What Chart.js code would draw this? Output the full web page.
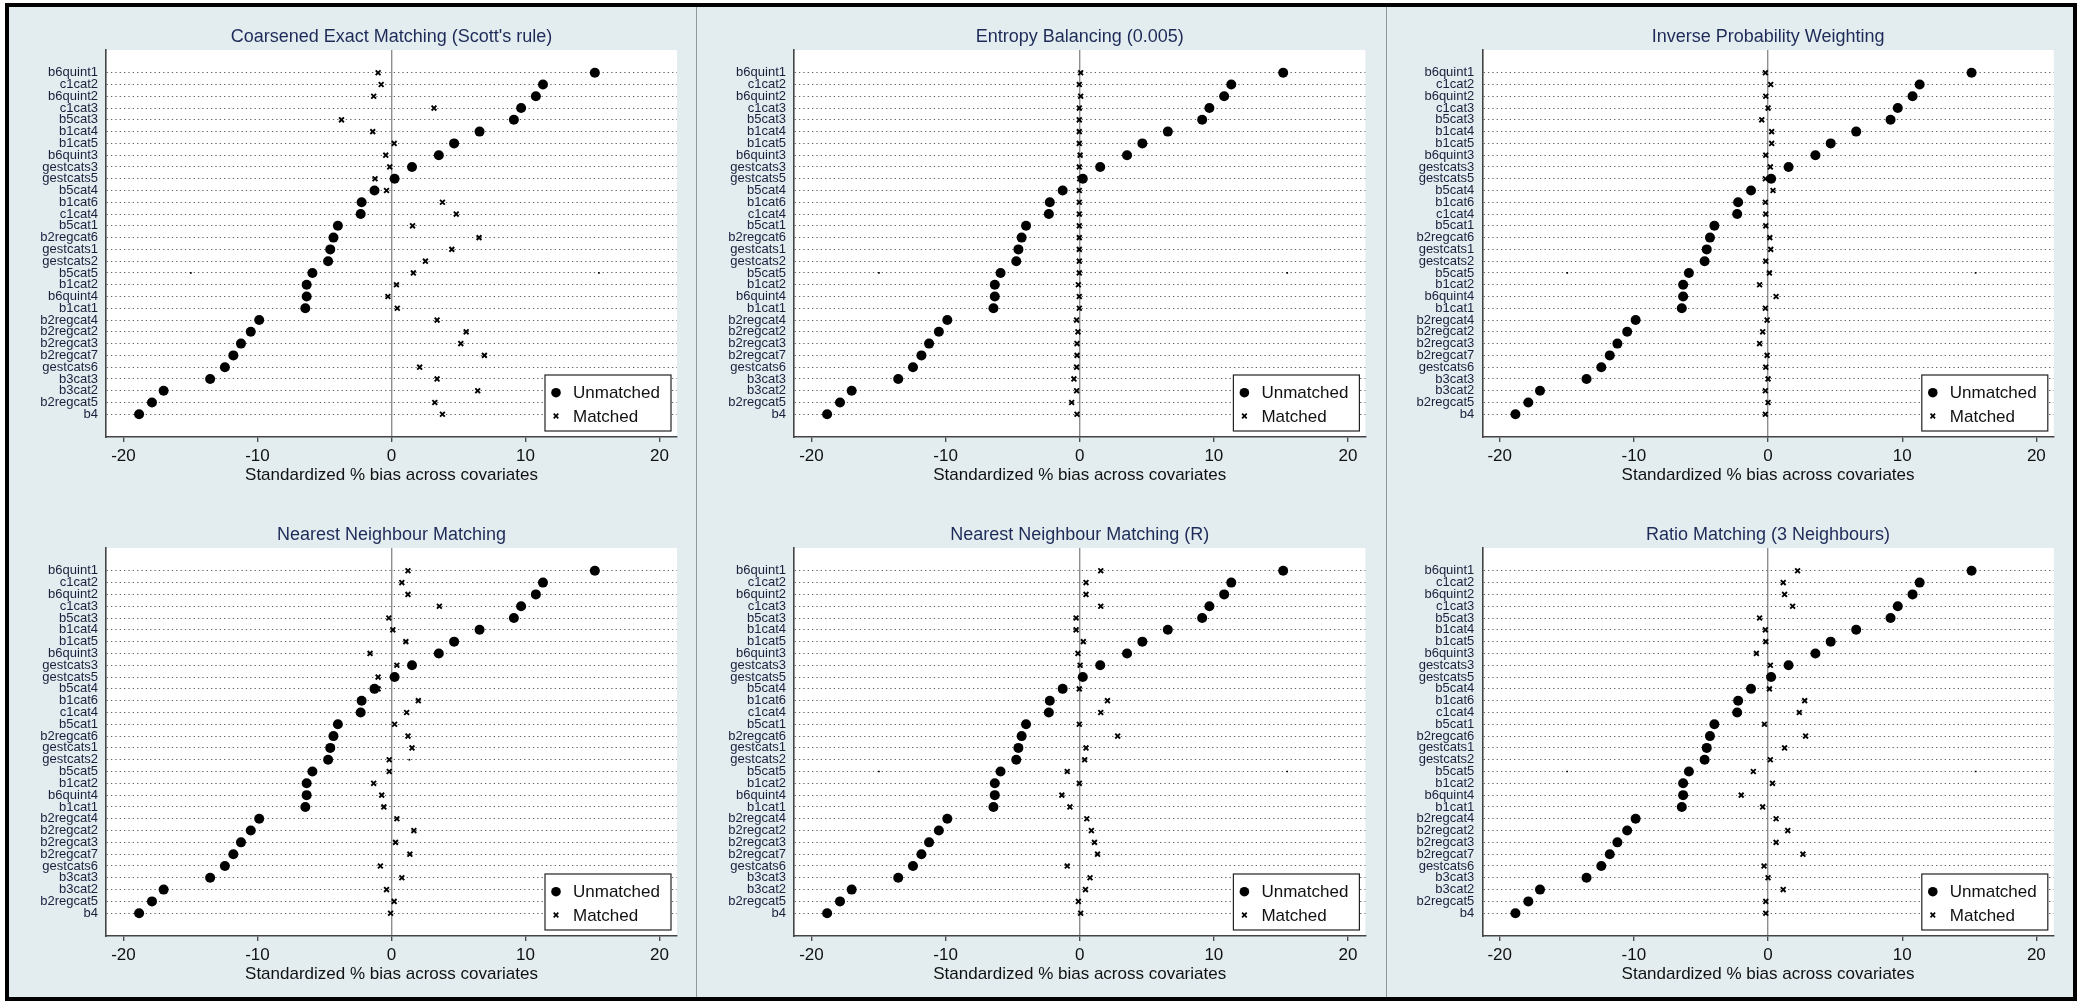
<!DOCTYPE html>
<html>
<head>
<meta charset="utf-8">
<script src="https://cdn.jsdelivr.net/npm/chart.js@4.4.0/dist/chart.umd.min.js"></script>
<style>
  html, body { margin: 0; padding: 0; background: #ffffff; }
  body { width: 2085px; height: 1001px; position: relative; overflow: hidden; }
  #frame { position: absolute; left: 5px; top: 3px; width: 2072px; height: 998px;
           box-sizing: border-box; border: 4px solid #000; background: #e3edef; }
  .panel { position: absolute; }
  .panel canvas { display: block; }
  .sep { position: absolute; background: #8f999c; }
</style>
</head>
<body>
<div id="frame"></div>
<script>
// Covariates, top to bottom
const covariates = ['b6quint1','c1cat2','b6quint2','c1cat3','b5cat3','b1cat4','b1cat5','b6quint3',
  'gestcats3','gestcats5','b5cat4','b1cat6','c1cat4','b5cat1','b2regcat6','gestcats1','gestcats2',
  'b5cat5','b1cat2','b6quint4','b1cat1','b2regcat4','b2regcat2','b2regcat3','b2regcat7','gestcats6',
  'b3cat3','b3cat2','b2regcat5','b4'];

// Standardized % bias before matching (same in every panel)
const unmatched = [15.17, 11.3, 10.77, 9.67, 9.13, 6.57, 4.67, 3.53, 1.53, 0.23, -1.27, -2.23, -2.3,
  -4.0, -4.33, -4.57, -4.73, -5.9, -6.33, -6.33, -6.43, -9.87, -10.5, -11.23, -11.8, -12.43, -13.53,
  -17.0, -17.87, -18.83];

// Standardized % bias after each method
const matchedCEM = [-1.0, -0.77, -1.33, 3.17, -3.73, -1.4, 0.2, -0.43, -0.13, -1.23, -0.37, 3.8, 4.83,
  1.57, 6.53, 4.5, 2.53, 1.63, 0.37, -0.27, 0.43, 3.4, 5.57, 5.17, 6.93, 2.1, 3.4, 6.43, 3.23, 3.8];
const matchedEB = [0.07, -0.03, 0.07, -0.03, -0.03, -0.03, -0.03, 0.03, -0.03, 0.0, -0.03, -0.03, -0.03,
  -0.03, -0.03, -0.03, -0.03, -0.03, -0.1, -0.03, -0.03, -0.23, -0.13, -0.2, -0.2, -0.23, -0.43, -0.23,
  -0.6, -0.2];
const matchedIPW = [-0.2, 0.2, -0.17, 0.0, -0.47, 0.27, 0.27, -0.17, 0.17, -0.2, 0.37, -0.2, -0.17,
  -0.17, 0.13, 0.2, -0.17, 0.1, -0.63, 0.6, -0.2, -0.07, -0.4, -0.63, -0.07, -0.17, 0.0, -0.2, 0.0, -0.2];
const matchedNN = [1.23, 0.77, 1.23, 3.57, -0.2, 0.1, 1.07, -1.6, 0.4, -1.0, -1.0, 2.0, 1.13, 0.23,
  1.23, 1.53, -0.17, -0.17, -1.33, -0.73, -0.57, 0.4, 1.67, 0.3, 1.37, -0.83, 0.77, -0.37, 0.2, -0.07];
const matchedNNR = [1.57, 0.47, 0.47, 1.57, -0.27, -0.27, 0.27, -0.13, 0.03, 0.2, -0.03, 2.07, 1.57,
  -0.03, 2.83, 0.47, 0.37, -0.93, -0.03, -1.33, -0.73, 0.53, 0.87, 1.1, 1.33, -0.93, 0.77, 0.43, -0.1, 0.07];
const matchedRatio = [2.2, 1.13, 1.23, 1.83, -0.63, -0.2, -0.17, -0.87, 0.17, 0.1, 0.1, 2.73, 2.33,
  -0.27, 2.8, 1.23, 0.17, -1.1, 0.33, -2.0, -0.4, 0.6, 1.47, 0.6, 2.6, -0.3, 0.0, 1.13, -0.17, -0.17];

// Small stray dots on some rows: [value, covariate]
const dotsCommon = [[-14.97, 'b5cat5'], [15.47, 'b5cat5']];
const dotsNN = [[1.33, 'gestcats2']];

const xTicks = [-20, -10, 0, 10, 20];
const panelTitles = ["Coarsened Exact Matching (Scott's rule)", 'Entropy Balancing (0.005)',
  'Inverse Probability Weighting', 'Nearest Neighbour Matching', 'Nearest Neighbour Matching (R)',
  'Ratio Matching (3 Neighbours)'];
const panelMatched = [matchedCEM, matchedEB, matchedIPW, matchedNN, matchedNNR, matchedRatio];
const panelDots = [dotsCommon, dotsCommon, dotsCommon, dotsNN, dotsCommon, dotsCommon];

const FONT = "'Liberation Sans', Arial, Helvetica, sans-serif";
const cols = [
  { left: 9,    width: 688, plotLeft: 97,   padRight: 20 },
  { left: 697,  width: 690, plotLeft: 97,   padRight: 21.6 },
  { left: 1387, width: 686, plotLeft: 95.3, padRight: 19.2 }
];
const rows = [
  { top: 7,   height: 494, plotTop: 43, plotBottom: 430, titleY: 29.7 },
  { top: 501, height: 496, plotTop: 47, plotBottom: 435, titleY: 34 }
];

// separators between panels
[697, 1387].forEach(x => {
  const d = document.createElement('div');
  d.className = 'sep';
  Object.assign(d.style, { left: (x - 1) + 'px', top: '7px', width: '1px', height: '990px' });
  document.body.appendChild(d);
});

// White plot region behind the grid and markers
const plotBackground = {
  id: 'plotBackground',
  beforeDraw(chart) {
    const { ctx, chartArea: a } = chart;
    ctx.save();
    ctx.fillStyle = '#ffffff';
    ctx.fillRect(a.left, a.top, a.right - a.left, a.bottom - a.top);
    ctx.restore();
  }
};

// Legend box drawn inside the plot area, bottom right
const insideLegend = {
  id: 'insideLegend',
  afterDraw(chart) {
    const { ctx, chartArea } = chart;
    const w = 126, h = 56;
    const x0 = chartArea.right - 6 - w, y0 = chartArea.bottom - 6 - h;
    ctx.save();
    ctx.fillStyle = '#ffffff';
    ctx.fillRect(x0, y0, w, h);
    ctx.strokeStyle = '#222';
    ctx.lineWidth = 1.2;
    ctx.strokeRect(x0, y0, w, h);
    const items = chart.data.datasets.filter(d => d.label);
    items.forEach((ds, i) => {
      const cy = y0 + 17.7 + i * 23.3;
      const cx = x0 + 11;
      ctx.fillStyle = '#000';
      ctx.strokeStyle = '#000';
      if (ds.pointStyle === 'circle') {
        ctx.beginPath();
        ctx.arc(cx, cy, 4.8, 0, Math.PI * 2);
        ctx.fill();
      } else {
        const r = 2.3;
        ctx.lineWidth = 1.7;
        ctx.beginPath();
        ctx.moveTo(cx - r, cy - r); ctx.lineTo(cx + r, cy + r);
        ctx.moveTo(cx + r, cy - r); ctx.lineTo(cx - r, cy + r);
        ctx.stroke();
      }
      ctx.font = `17px ${FONT}`;
      ctx.fillStyle = '#111';
      ctx.textBaseline = 'middle';
      ctx.textAlign = 'left';
      ctx.fillText(ds.label, x0 + 28, cy + 1);
    });
    ctx.restore();
  }
};

const toPoints = vals => vals.map((v, i) => ({ x: v, y: i + 1 }));

panelTitles.forEach((title, p) => {
  const col = cols[p % 3], row = rows[Math.floor(p / 3)];
  const wrap = document.createElement('div');
  wrap.className = 'panel';
  wrap.style.left = col.left + 'px';
  wrap.style.top = row.top + 'px';
  const cv = document.createElement('canvas');
  cv.width = col.width;
  cv.height = row.height;
  cv.style.width = col.width + 'px';
  cv.style.height = row.height + 'px';
  wrap.appendChild(cv);
  document.body.appendChild(wrap);

  const xAxisH = row.height - row.plotBottom;

  new Chart(cv, {
    type: 'scatter',
    data: {
      datasets: [
        { label: 'Unmatched', data: toPoints(unmatched), pointStyle: 'circle', pointRadius: 5,
          backgroundColor: '#000', borderColor: '#000', borderWidth: 0, order: 1 },
        { label: 'Matched', data: toPoints(panelMatched[p]), pointStyle: 'crossRot', pointRadius: 3.4,
          backgroundColor: '#000', borderColor: '#000', borderWidth: 1.9, order: 0 },
        { label: '', data: panelDots[p].map(d => ({ x: d[0], y: covariates.indexOf(d[1]) + 1 })),
          pointStyle: 'rect', pointRadius: 1.2, backgroundColor: '#000', borderWidth: 0, order: 2 }
      ]
    },
    options: {
      responsive: false,
      animation: false,
      devicePixelRatio: 1,
      layout: { padding: { top: 0, left: 0, right: col.padRight, bottom: 0 } },
      plugins: {
        legend: { display: false },
        tooltip: { enabled: false },
        title: {
          display: true, text: title, fullSize: false, color: '#1e2b58',
          font: { family: FONT, size: 18, weight: 'normal' },
          padding: { top: row.titleY - 10.8, bottom: row.plotTop - row.titleY - 10.8 }
        }
      },
      scales: {
        x: {
          type: 'linear', min: -21.3, max: 21.3,
          afterBuildTicks: s => { s.ticks = xTicks.map(v => ({ value: v })); },
          afterFit: s => { s.height = xAxisH; },
          ticks: { color: '#111', font: { family: FONT, size: 17 }, padding: 4.5, autoSkip: false,
                   callback: v => String(v) },
          grid: {
            display: true, drawOnChartArea: true, drawTicks: true, tickLength: 5,
            color: c => (c.tick && c.tick.value === 0) ? '#8e8e8e' : 'rgba(0,0,0,0)',
            lineWidth: 1.4, tickColor: '#444', tickWidth: 1.3
          },
          border: { display: true, color: '#444', width: 1.6 },
          title: { display: true, text: 'Standardized % bias across covariates', color: '#111',
                   font: { family: FONT, size: 17 },
                   padding: { top: 0, bottom: xAxisH - 38.5 - 10.2 } }
        },
        y: {
          type: 'linear', reverse: true, min: -0.93, max: covariates.length + 1.93,
          afterBuildTicks: s => { s.ticks = covariates.map((_, i) => ({ value: i + 1 })); },
          afterFit: s => { s.width = col.plotLeft; },
          ticks: { color: '#1a1f3c', font: { family: FONT, size: 13 }, padding: 8, autoSkip: false,
                   callback: v => covariates[v - 1] || '' },
          grid: { display: true, drawTicks: false, tickLength: 0, color: '#5e5e5e', lineWidth: 1 },
          border: { display: true, color: '#444', width: 1.6, dash: [1.3, 3.05] }
        }
      }
    },
    plugins: [plotBackground, insideLegend]
  });
});
</script>
</body>
</html>
